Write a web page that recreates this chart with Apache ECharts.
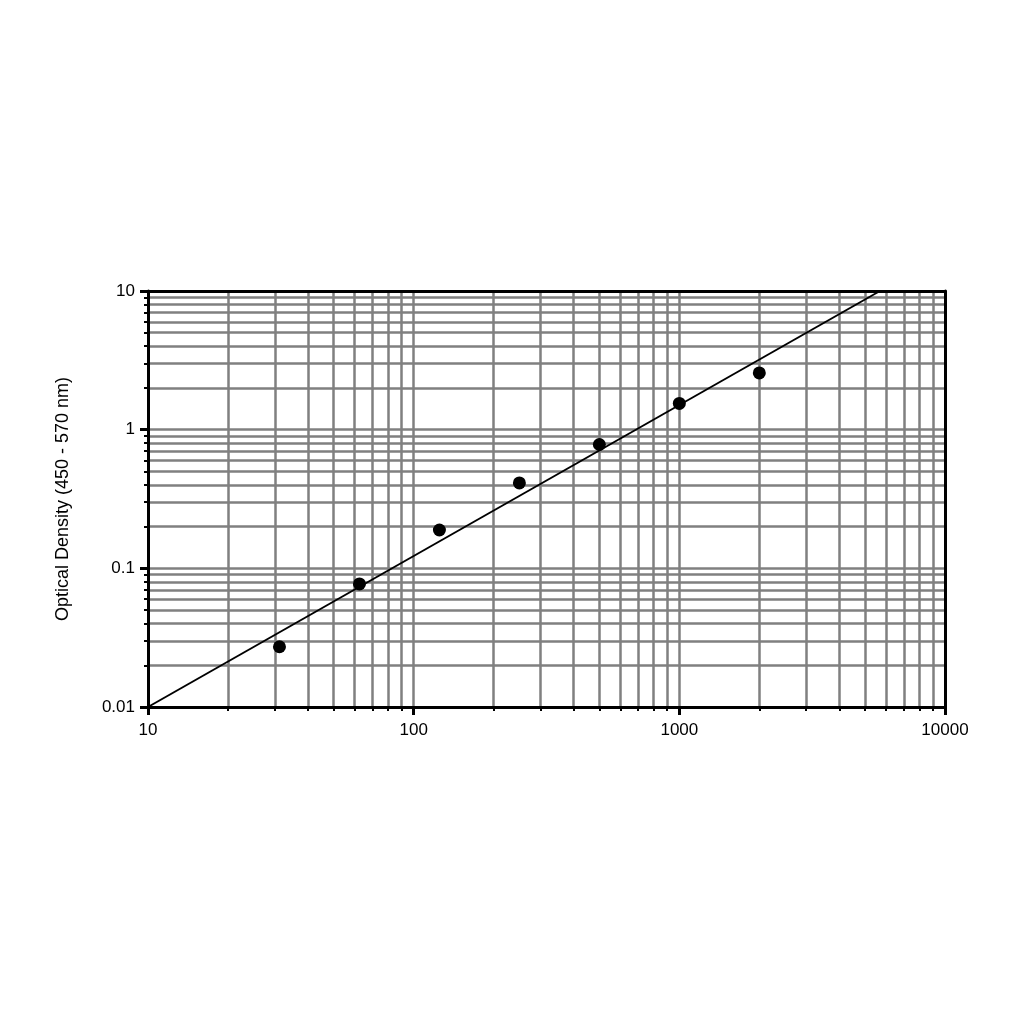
<!DOCTYPE html>
<html>
<head>
<meta charset="utf-8">
<script src="https://cdn.jsdelivr.net/npm/echarts@6/dist/echarts.min.js"></script>
<style>
html,body{margin:0;padding:0;background:#fff;}
#chart{width:1024px;height:1024px;}
</style>
</head>
<body>
<div id="chart"></div>
<script>
// Standard concentrations (x) and optical density readings (y)
var concentrations = [31.25, 62.5, 125, 250, 500, 1000, 2000];
var opticalDensity = [0.0272, 0.0772, 0.189, 0.413, 0.782, 1.545, 2.565];
// Fitted line end points (log-log regression)
var fitX = [10, 5690];
var fitY = [0.01, 10];
var xRange = [10, 10000];
var yRange = [0.01, 10];
var yAxisTitle = 'Optical Density (450 - 570 nm)';

var chart = echarts.init(document.getElementById('chart'));
var font = 'Liberation Sans, Arial, sans-serif';
var gridLine = {show: true, showMinLine: false, showMaxLine: false, lineStyle: {color: '#808080', width: 2.5}};
var minorGrid = {show: true, lineStyle: {color: '#808080', width: 2.5}};
function plain(v) { return String(v); }

chart.setOption({
  animation: false,
  backgroundColor: '#ffffff',
  grid: {left: 148, right: 79, top: 291, bottom: 317, containLabel: false},
  xAxis: [{
    type: 'log', logBase: 10, min: xRange[0], max: xRange[1],
    axisLine: {show: true, onZero: false, lineStyle: {color: '#000', width: 3}},
    axisTick: {show: true, length: 8, lineStyle: {color: '#000', width: 3}},
    minorTick: {show: true, splitNumber: 9, length: 4, lineStyle: {color: '#000', width: 2}},
    axisLabel: {color: '#000', fontSize: 17, fontFamily: font, margin: 15, formatter: plain},
    splitLine: gridLine,
    minorSplitLine: minorGrid
  }, {
    type: 'log', logBase: 10, min: xRange[0], max: xRange[1], position: 'top', z: 5,
    axisLine: {show: true, onZero: false, lineStyle: {color: '#000', width: 3}},
    axisTick: {show: false}, axisLabel: {show: false}, splitLine: {show: false}
  }],
  yAxis: [{
    type: 'log', logBase: 10, min: yRange[0], max: yRange[1],
    name: yAxisTitle, nameLocation: 'middle', nameGap: 76, nameRotate: 90,
    nameTextStyle: {color: '#000', fontSize: 18, fontFamily: font},
    axisLine: {show: true, onZero: false, lineStyle: {color: '#000', width: 3}},
    axisTick: {show: true, length: 8, lineStyle: {color: '#000', width: 3}},
    minorTick: {show: true, splitNumber: 9, length: 4, lineStyle: {color: '#000', width: 2}},
    axisLabel: {color: '#000', fontSize: 17, fontFamily: font, margin: 13, formatter: plain},
    splitLine: gridLine,
    minorSplitLine: minorGrid
  }, {
    type: 'log', logBase: 10, min: yRange[0], max: yRange[1], position: 'right', z: 5,
    axisLine: {show: true, onZero: false, lineStyle: {color: '#000', width: 3}},
    axisTick: {show: false}, axisLabel: {show: false}, splitLine: {show: false}
  }],
  series: [{
    type: 'line',
    data: fitX.map(function (x, i) { return [x, fitY[i]]; }),
    showSymbol: false, symbol: 'none',
    lineStyle: {color: '#000', width: 2},
    z: 3, silent: true
  }, {
    type: 'scatter',
    data: concentrations.map(function (x, i) { return [x, opticalDensity[i]]; }),
    symbol: 'circle', symbolSize: 13,
    itemStyle: {color: '#000', opacity: 1},
    z: 4
  }]
});
</script>
</body>
</html>
